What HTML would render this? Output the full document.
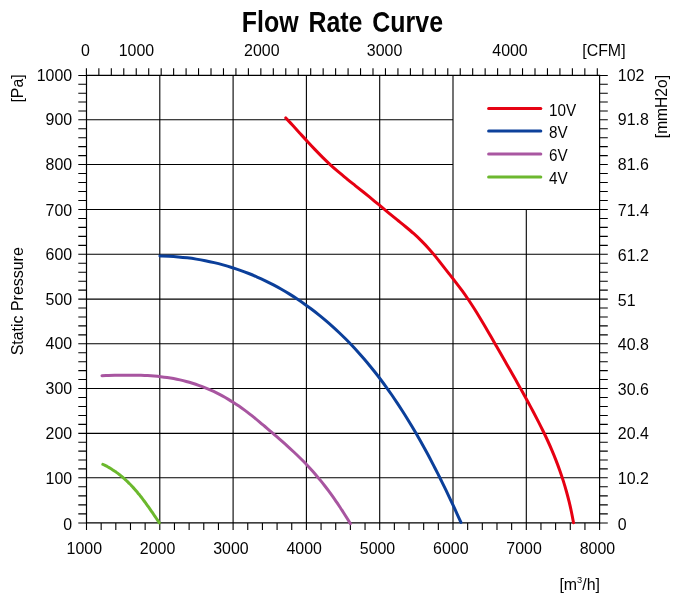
<!DOCTYPE html>
<html lang="en"><head><meta charset="utf-8"><title>Flow Rate Curve</title>
<style>html,body{margin:0;padding:0;background:#fff}svg{display:block}text{font-family:"Liberation Sans",sans-serif;fill:#000}</style></head><body>
<svg width="675" height="605" viewBox="0 0 675 605">
<rect width="675" height="605" fill="#fff"/>
<path d="M159.80 75.45V522.95M233.10 75.45V522.95M306.40 75.45V522.95M379.70 75.45V522.95M453.00 75.45V522.95M526.30 209.50V522.95M86.50 477.75H599.60M86.50 433.40H599.60M86.50 388.50H599.60M86.50 343.80H599.60M86.50 299.10H599.60M86.50 254.30H599.60M86.50 209.50H599.60M86.50 164.55H453.00M86.50 119.80H453.00" stroke="#000" stroke-width="1.1" fill="none"/>
<path d="M86.50 75.45H599.60V522.95H86.50Z" stroke="#000" stroke-width="1.2" fill="none"/>
<path d="M78.30 522.95H86.50M599.60 522.95H607.80M78.30 513.91H86.50M599.60 513.91H607.80M78.30 504.87H86.50M599.60 504.87H607.80M78.30 495.83H86.50M599.60 495.83H607.80M78.30 486.79H86.50M599.60 486.79H607.80M78.30 477.75H86.50M599.60 477.75H607.80M78.30 468.88H86.50M599.60 468.88H607.80M78.30 460.01H86.50M599.60 460.01H607.80M78.30 451.14H86.50M599.60 451.14H607.80M78.30 442.27H86.50M599.60 442.27H607.80M78.30 433.40H86.50M599.60 433.40H607.80M78.30 424.42H86.50M599.60 424.42H607.80M78.30 415.44H86.50M599.60 415.44H607.80M78.30 406.46H86.50M599.60 406.46H607.80M78.30 397.48H86.50M599.60 397.48H607.80M78.30 388.50H86.50M599.60 388.50H607.80M78.30 379.56H86.50M599.60 379.56H607.80M78.30 370.62H86.50M599.60 370.62H607.80M78.30 361.68H86.50M599.60 361.68H607.80M78.30 352.74H86.50M599.60 352.74H607.80M78.30 343.80H86.50M599.60 343.80H607.80M78.30 334.86H86.50M599.60 334.86H607.80M78.30 325.92H86.50M599.60 325.92H607.80M78.30 316.98H86.50M599.60 316.98H607.80M78.30 308.04H86.50M599.60 308.04H607.80M78.30 299.10H86.50M599.60 299.10H607.80M78.30 290.14H86.50M599.60 290.14H607.80M78.30 281.18H86.50M599.60 281.18H607.80M78.30 272.22H86.50M599.60 272.22H607.80M78.30 263.26H86.50M599.60 263.26H607.80M78.30 254.30H86.50M599.60 254.30H607.80M78.30 245.34H86.50M599.60 245.34H607.80M78.30 236.38H86.50M599.60 236.38H607.80M78.30 227.42H86.50M599.60 227.42H607.80M78.30 218.46H86.50M599.60 218.46H607.80M78.30 209.50H86.50M599.60 209.50H607.80M78.30 200.51H86.50M599.60 200.51H607.80M78.30 191.52H86.50M599.60 191.52H607.80M78.30 182.53H86.50M599.60 182.53H607.80M78.30 173.54H86.50M599.60 173.54H607.80M78.30 164.55H86.50M599.60 164.55H607.80M78.30 155.60H86.50M599.60 155.60H607.80M78.30 146.65H86.50M599.60 146.65H607.80M78.30 137.70H86.50M599.60 137.70H607.80M78.30 128.75H86.50M599.60 128.75H607.80M78.30 119.80H86.50M599.60 119.80H607.80M78.30 110.93H86.50M599.60 110.93H607.80M78.30 102.06H86.50M599.60 102.06H607.80M78.30 93.19H86.50M599.60 93.19H607.80M78.30 84.32H86.50M599.60 84.32H607.80M78.30 75.45H86.50M599.60 75.45H607.80M86.50 522.95V529.95M101.16 522.95V529.95M115.82 522.95V529.95M130.48 522.95V529.95M145.14 522.95V529.95M159.80 522.95V529.95M174.46 522.95V529.95M189.12 522.95V529.95M203.78 522.95V529.95M218.44 522.95V529.95M233.10 522.95V529.95M247.76 522.95V529.95M262.42 522.95V529.95M277.08 522.95V529.95M291.74 522.95V529.95M306.40 522.95V529.95M321.06 522.95V529.95M335.72 522.95V529.95M350.38 522.95V529.95M365.04 522.95V529.95M379.70 522.95V529.95M394.36 522.95V529.95M409.02 522.95V529.95M423.68 522.95V529.95M438.34 522.95V529.95M453.00 522.95V529.95M467.66 522.95V529.95M482.32 522.95V529.95M496.98 522.95V529.95M511.64 522.95V529.95M526.30 522.95V529.95M540.96 522.95V529.95M555.62 522.95V529.95M570.28 522.95V529.95M584.94 522.95V529.95M599.60 522.95V529.95M86.40 68.15V75.45M98.86 68.15V75.45M111.32 68.15V75.45M123.78 68.15V75.45M136.24 68.15V75.45M148.71 68.15V75.45M161.17 68.15V75.45M173.63 68.15V75.45M186.09 68.15V75.45M198.55 68.15V75.45M211.01 68.15V75.45M223.47 68.15V75.45M235.93 68.15V75.45M248.39 68.15V75.45M260.85 68.15V75.45M273.31 68.15V75.45M285.78 68.15V75.45M298.24 68.15V75.45M310.70 68.15V75.45M323.16 68.15V75.45M335.62 68.15V75.45M348.08 68.15V75.45M360.54 68.15V75.45M373.00 68.15V75.45M385.46 68.15V75.45M397.93 68.15V75.45M410.39 68.15V75.45M422.85 68.15V75.45M435.31 68.15V75.45M447.77 68.15V75.45M460.23 68.15V75.45M472.69 68.15V75.45M485.15 68.15V75.45M497.61 68.15V75.45M510.07 68.15V75.45M522.53 68.15V75.45M535.00 68.15V75.45M547.46 68.15V75.45M559.92 68.15V75.45M572.38 68.15V75.45M584.84 68.15V75.45M597.30 68.15V75.45" stroke="#000" stroke-width="1.1" fill="none"/>
<path d="M102.81 464.33C103.08 464.46 103.90 464.84 104.44 465.11C104.97 465.37 105.50 465.64 106.03 465.91C106.56 466.18 107.08 466.46 107.60 466.74C108.12 467.03 108.64 467.32 109.15 467.61C109.66 467.91 110.17 468.20 110.67 468.51C111.17 468.81 111.67 469.12 112.16 469.44C112.66 469.75 113.15 470.07 113.64 470.39C114.12 470.71 114.61 471.04 115.09 471.37C115.57 471.71 116.04 472.04 116.51 472.39C116.99 472.73 117.45 473.07 117.92 473.42C118.38 473.77 118.85 474.13 119.30 474.48C119.76 474.84 120.22 475.21 120.67 475.57C121.12 475.94 121.56 476.31 122.01 476.68C122.45 477.06 122.89 477.44 123.33 477.82C123.77 478.20 124.20 478.58 124.63 478.97C125.06 479.36 125.49 479.76 125.92 480.15C126.34 480.55 126.76 480.95 127.18 481.35C127.60 481.75 128.02 482.16 128.43 482.57C128.85 482.98 129.26 483.39 129.66 483.81C130.07 484.22 130.48 484.64 130.88 485.06C131.28 485.48 131.68 485.91 132.08 486.33C132.47 486.76 132.87 487.19 133.26 487.62C133.65 488.05 134.04 488.49 134.43 488.93C134.81 489.36 135.20 489.80 135.58 490.25C135.96 490.69 136.34 491.13 136.72 491.58C137.10 492.03 137.47 492.48 137.84 492.93C138.22 493.38 138.59 493.83 138.96 494.29C139.33 494.74 139.69 495.20 140.06 495.66C140.42 496.12 140.78 496.58 141.14 497.04C141.51 497.50 141.86 497.97 142.22 498.43C142.58 498.90 142.93 499.36 143.29 499.83C143.64 500.30 143.99 500.77 144.34 501.24C144.69 501.71 145.04 502.18 145.39 502.66C145.74 503.13 146.08 503.61 146.43 504.08C146.77 504.56 147.12 505.03 147.46 505.51C147.80 505.99 148.14 506.47 148.48 506.94C148.82 507.42 149.15 507.90 149.49 508.38C149.83 508.86 150.16 509.34 150.50 509.82C150.83 510.31 151.16 510.79 151.50 511.27C151.83 511.75 152.16 512.23 152.49 512.72C152.82 513.20 153.15 513.68 153.48 514.16C153.81 514.65 154.13 515.13 154.46 515.61C154.79 516.09 155.11 516.57 155.44 517.06C155.76 517.54 156.09 518.02 156.41 518.50C156.74 518.98 157.06 519.46 157.39 519.94C157.71 520.43 158.03 520.91 158.35 521.38C158.68 521.86 159.16 522.58 159.32 522.82" stroke="#6bb82d" stroke-width="3" fill="none" stroke-linecap="round" stroke-linejoin="round"/>
<path d="M101.96 375.71C103.03 375.67 106.22 375.58 108.36 375.52C110.50 375.46 112.66 375.40 114.82 375.36C116.98 375.31 119.15 375.26 121.33 375.23C123.50 375.20 125.68 375.17 127.87 375.17C130.05 375.16 132.24 375.16 134.43 375.19C136.62 375.22 138.81 375.26 141.00 375.33C143.19 375.40 145.38 375.48 147.57 375.60C149.76 375.72 151.94 375.86 154.12 376.04C156.30 376.22 158.48 376.42 160.65 376.66C162.82 376.91 164.99 377.18 167.14 377.50C169.30 377.81 171.45 378.16 173.58 378.56C175.72 378.96 177.85 379.40 179.96 379.88C182.08 380.37 184.18 380.89 186.27 381.46C188.36 382.02 190.44 382.63 192.51 383.28C194.57 383.93 196.62 384.61 198.66 385.34C200.70 386.07 202.72 386.84 204.73 387.64C206.73 388.45 208.72 389.29 210.70 390.17C212.67 391.05 214.63 391.97 216.57 392.93C218.51 393.89 220.44 394.88 222.34 395.91C224.24 396.94 226.13 398.00 227.99 399.10C229.86 400.20 231.71 401.34 233.53 402.51C235.36 403.67 237.16 404.88 238.95 406.11C240.74 407.34 242.50 408.61 244.26 409.89C246.01 411.18 247.75 412.49 249.47 413.82C251.20 415.16 252.90 416.51 254.61 417.88C256.31 419.25 257.99 420.64 259.67 422.04C261.35 423.43 263.02 424.85 264.69 426.26C266.36 427.68 268.01 429.11 269.67 430.54C271.32 431.96 272.98 433.40 274.62 434.83C276.27 436.26 277.92 437.70 279.56 439.13C281.20 440.57 282.83 442.01 284.46 443.46C286.08 444.91 287.70 446.36 289.31 447.82C290.91 449.29 292.51 450.76 294.09 452.24C295.67 453.73 297.24 455.22 298.79 456.73C300.35 458.24 301.88 459.77 303.40 461.31C304.91 462.85 306.41 464.41 307.89 465.99C309.37 467.56 310.82 469.16 312.26 470.77C313.70 472.39 315.12 474.02 316.52 475.67C317.92 477.31 319.30 478.98 320.66 480.66C322.02 482.34 323.37 484.04 324.70 485.75C326.03 487.46 327.34 489.19 328.63 490.93C329.92 492.67 331.20 494.43 332.46 496.20C333.73 497.96 334.97 499.75 336.21 501.54C337.44 503.34 338.65 505.15 339.86 506.97C341.06 508.78 342.25 510.62 343.42 512.46C344.60 514.30 345.76 516.16 346.91 518.02C348.06 519.88 349.75 522.70 350.32 523.64" stroke="#a855a0" stroke-width="3" fill="none" stroke-linecap="round" stroke-linejoin="round"/>
<path d="M159.90 255.99C161.43 256.04 166.02 256.13 169.07 256.28C172.12 256.43 175.17 256.64 178.21 256.90C181.24 257.16 184.28 257.48 187.30 257.85C190.32 258.22 193.33 258.65 196.33 259.13C199.33 259.61 202.32 260.14 205.30 260.73C208.27 261.32 211.24 261.96 214.19 262.65C217.14 263.35 220.07 264.10 222.99 264.90C225.91 265.70 228.82 266.55 231.70 267.46C234.59 268.36 237.46 269.32 240.30 270.33C243.15 271.34 245.98 272.41 248.79 273.52C251.60 274.63 254.38 275.80 257.15 277.02C259.91 278.23 262.66 279.50 265.38 280.82C268.10 282.13 270.79 283.49 273.47 284.90C276.14 286.31 278.79 287.77 281.41 289.27C284.04 290.77 286.64 292.31 289.21 293.90C291.79 295.48 294.34 297.11 296.86 298.78C299.38 300.45 301.88 302.16 304.35 303.90C306.82 305.65 309.26 307.43 311.68 309.25C314.09 311.07 316.48 312.93 318.84 314.82C321.19 316.71 323.52 318.64 325.82 320.60C328.12 322.56 330.39 324.55 332.64 326.57C334.88 328.59 337.09 330.64 339.27 332.72C341.46 334.80 343.61 336.91 345.74 339.05C347.87 341.19 349.96 343.35 352.04 345.54C354.11 347.74 356.15 349.96 358.17 352.20C360.19 354.44 362.18 356.71 364.15 359.01C366.12 361.30 368.06 363.62 369.98 365.96C371.89 368.29 373.78 370.66 375.65 373.04C377.52 375.42 379.36 377.83 381.18 380.25C383.00 382.67 384.80 385.12 386.57 387.58C388.35 390.04 390.10 392.52 391.83 395.02C393.55 397.52 395.26 400.03 396.95 402.56C398.63 405.09 400.30 407.64 401.94 410.20C403.59 412.76 405.21 415.33 406.81 417.92C408.42 420.51 410.00 423.11 411.56 425.72C413.13 428.33 414.68 430.96 416.20 433.59C417.73 436.22 419.24 438.87 420.73 441.52C422.22 444.17 423.70 446.84 425.15 449.51C426.61 452.17 428.05 454.85 429.48 457.53C430.90 460.22 432.31 462.91 433.70 465.60C435.09 468.29 436.47 470.99 437.83 473.69C439.20 476.40 440.54 479.10 441.88 481.81C443.21 484.52 444.53 487.23 445.84 489.94C447.15 492.65 448.44 495.36 449.72 498.07C451.00 500.78 452.27 503.49 453.53 506.20C454.78 508.90 456.03 511.61 457.26 514.31C458.50 517.01 460.32 521.06 460.93 522.41" stroke="#0b3f9a" stroke-width="3" fill="none" stroke-linecap="round" stroke-linejoin="round"/>
<path d="M285.80 117.90C287.02 119.22 290.68 123.15 293.11 125.80C295.54 128.44 297.95 131.12 300.38 133.78C302.80 136.44 305.22 139.11 307.67 141.75C310.12 144.40 312.57 147.04 315.06 149.64C317.55 152.24 320.06 154.82 322.62 157.35C325.18 159.88 327.77 162.37 330.41 164.80C333.06 167.23 335.76 169.59 338.49 171.93C341.22 174.27 344.00 176.54 346.79 178.82C349.57 181.09 352.39 183.32 355.20 185.57C358.01 187.81 360.84 190.03 363.65 192.28C366.45 194.53 369.25 196.79 372.03 199.07C374.81 201.35 377.55 203.67 380.31 205.97C383.07 208.27 385.82 210.59 388.59 212.88C391.36 215.17 394.16 217.43 396.96 219.70C399.75 221.96 402.60 224.18 405.37 226.47C408.14 228.77 410.91 231.07 413.59 233.46C416.26 235.86 418.88 238.32 421.42 240.85C423.96 243.38 426.44 245.98 428.83 248.65C431.23 251.32 433.53 254.08 435.81 256.86C438.08 259.64 440.25 262.51 442.48 265.34C444.70 268.16 446.93 270.99 449.15 273.81C451.38 276.64 453.62 279.45 455.81 282.30C458.00 285.15 460.18 288.00 462.29 290.91C464.39 293.81 466.44 296.76 468.45 299.74C470.46 302.72 472.41 305.74 474.33 308.77C476.26 311.81 478.14 314.88 480.00 317.95C481.86 321.03 483.69 324.14 485.51 327.24C487.33 330.35 489.12 333.47 490.92 336.59C492.71 339.71 494.50 342.84 496.29 345.96C498.08 349.08 499.87 352.20 501.65 355.32C503.44 358.43 505.23 361.55 507.01 364.67C508.80 367.79 510.58 370.90 512.35 374.03C514.13 377.15 515.90 380.27 517.66 383.40C519.42 386.54 521.17 389.67 522.92 392.81C524.66 395.96 526.40 399.10 528.12 402.26C529.84 405.42 531.56 408.59 533.24 411.77C534.93 414.95 536.60 418.14 538.24 421.34C539.88 424.55 541.50 427.76 543.07 431.00C544.65 434.23 546.19 437.48 547.69 440.75C549.19 444.02 550.65 447.30 552.05 450.61C553.46 453.91 554.81 457.24 556.11 460.59C557.42 463.94 558.66 467.30 559.86 470.69C561.05 474.08 562.19 477.49 563.28 480.91C564.36 484.33 565.39 487.78 566.36 491.24C567.33 494.70 568.25 498.18 569.11 501.67C569.96 505.16 570.76 508.67 571.50 512.20C572.24 515.72 573.21 521.05 573.55 522.82" stroke="#e60012" stroke-width="3" fill="none" stroke-linecap="round" stroke-linejoin="round"/>
<g opacity="0.99">
<path d="M488.6 108.4H540.8" stroke="#e60012" stroke-width="3" stroke-linecap="round"/>
<text transform="translate(548.9 115.5) scale(0.955 1)" font-size="16.0" text-anchor="start">10V</text>
<path d="M488.6 130.9H540.8" stroke="#0b3f9a" stroke-width="3" stroke-linecap="round"/>
<text transform="translate(548.9 138.2) scale(0.955 1)" font-size="16.0" text-anchor="start">8V</text>
<path d="M488.6 154.1H540.8" stroke="#a855a0" stroke-width="3" stroke-linecap="round"/>
<text transform="translate(548.9 160.8) scale(0.955 1)" font-size="16.0" text-anchor="start">6V</text>
<path d="M488.6 177.0H540.8" stroke="#6bb82d" stroke-width="3" stroke-linecap="round"/>
<text transform="translate(548.9 183.8) scale(0.955 1)" font-size="16.0" text-anchor="start">4V</text>
<text transform="translate(342.4 31.6) scale(0.828 1)" font-size="30.1" font-weight="bold" text-anchor="middle" style="word-spacing:3.6px" fill="#000">Flow Rate Curve</text>
<text transform="translate(72.2 529.6) scale(0.966 1)" font-size="16.5" text-anchor="end">0</text>
<text transform="translate(72.2 483.9) scale(0.966 1)" font-size="16.5" text-anchor="end">100</text>
<text transform="translate(72.2 439.0) scale(0.966 1)" font-size="16.5" text-anchor="end">200</text>
<text transform="translate(72.2 394.1) scale(0.966 1)" font-size="16.5" text-anchor="end">300</text>
<text transform="translate(72.2 349.3) scale(0.966 1)" font-size="16.5" text-anchor="end">400</text>
<text transform="translate(72.2 305.2) scale(0.966 1)" font-size="16.5" text-anchor="end">500</text>
<text transform="translate(72.2 260.4) scale(0.966 1)" font-size="16.5" text-anchor="end">600</text>
<text transform="translate(72.2 215.6) scale(0.966 1)" font-size="16.5" text-anchor="end">700</text>
<text transform="translate(72.2 170.2) scale(0.966 1)" font-size="16.5" text-anchor="end">800</text>
<text transform="translate(72.2 125.1) scale(0.966 1)" font-size="16.5" text-anchor="end">900</text>
<text transform="translate(72.2 81.0) scale(0.966 1)" font-size="16.5" text-anchor="end">1000</text>
<text transform="translate(617.8 529.6) scale(0.966 1)" font-size="16.5" text-anchor="start">0</text>
<text transform="translate(617.8 483.9) scale(0.966 1)" font-size="16.5" text-anchor="start">10.2</text>
<text transform="translate(617.8 439.2) scale(0.966 1)" font-size="16.5" text-anchor="start">20.4</text>
<text transform="translate(617.8 394.5) scale(0.966 1)" font-size="16.5" text-anchor="start">30.6</text>
<text transform="translate(617.8 349.6) scale(0.966 1)" font-size="16.5" text-anchor="start">40.8</text>
<text transform="translate(617.8 305.5) scale(0.966 1)" font-size="16.5" text-anchor="start">51</text>
<text transform="translate(617.8 260.7) scale(0.966 1)" font-size="16.5" text-anchor="start">61.2</text>
<text transform="translate(617.8 215.9) scale(0.966 1)" font-size="16.5" text-anchor="start">71.4</text>
<text transform="translate(617.8 170.2) scale(0.966 1)" font-size="16.5" text-anchor="start">81.6</text>
<text transform="translate(617.8 125.1) scale(0.966 1)" font-size="16.5" text-anchor="start">91.8</text>
<text transform="translate(617.8 81.0) scale(0.966 1)" font-size="16.5" text-anchor="start">102</text>
<text transform="translate(84.3 554.0) scale(0.966 1)" font-size="16.5" text-anchor="middle">1000</text>
<text transform="translate(157.6 554.0) scale(0.966 1)" font-size="16.5" text-anchor="middle">2000</text>
<text transform="translate(230.9 554.0) scale(0.966 1)" font-size="16.5" text-anchor="middle">3000</text>
<text transform="translate(304.2 554.0) scale(0.966 1)" font-size="16.5" text-anchor="middle">4000</text>
<text transform="translate(377.5 554.0) scale(0.966 1)" font-size="16.5" text-anchor="middle">5000</text>
<text transform="translate(450.8 554.0) scale(0.966 1)" font-size="16.5" text-anchor="middle">6000</text>
<text transform="translate(524.1 554.0) scale(0.966 1)" font-size="16.5" text-anchor="middle">7000</text>
<text transform="translate(597.4 554.0) scale(0.966 1)" font-size="16.5" text-anchor="middle">8000</text>
<text transform="translate(85.4 55.6) scale(0.966 1)" font-size="16.5" text-anchor="middle">0</text>
<text transform="translate(136.4 55.6) scale(0.966 1)" font-size="16.5" text-anchor="middle">1000</text>
<text transform="translate(261.8 55.6) scale(0.966 1)" font-size="16.5" text-anchor="middle">2000</text>
<text transform="translate(384.6 55.6) scale(0.966 1)" font-size="16.5" text-anchor="middle">3000</text>
<text transform="translate(510.0 55.6) scale(0.966 1)" font-size="16.5" text-anchor="middle">4000</text>
<text transform="translate(582.2 55.6) scale(0.966 1)" font-size="16.5" text-anchor="start">[CFM]</text>
<text transform="translate(559.4 589.7) scale(0.966 1)" font-size="16.5" text-anchor="start">[m<tspan font-size="9.6" dy="-6.3">3</tspan><tspan dy="6.3">/h]</tspan></text>
<text transform="translate(22.6 355.3) rotate(-90) scale(0.966 1)" font-size="16.5">Static Pressure</text>
<text transform="translate(22.6 102.6) rotate(-90) scale(0.966 1)" font-size="16.5">[Pa]</text>
<text transform="translate(666.6 138.2) rotate(-90) scale(0.945 1)" font-size="16.5">[mmH2o]</text>
</g>
</svg></body></html>
